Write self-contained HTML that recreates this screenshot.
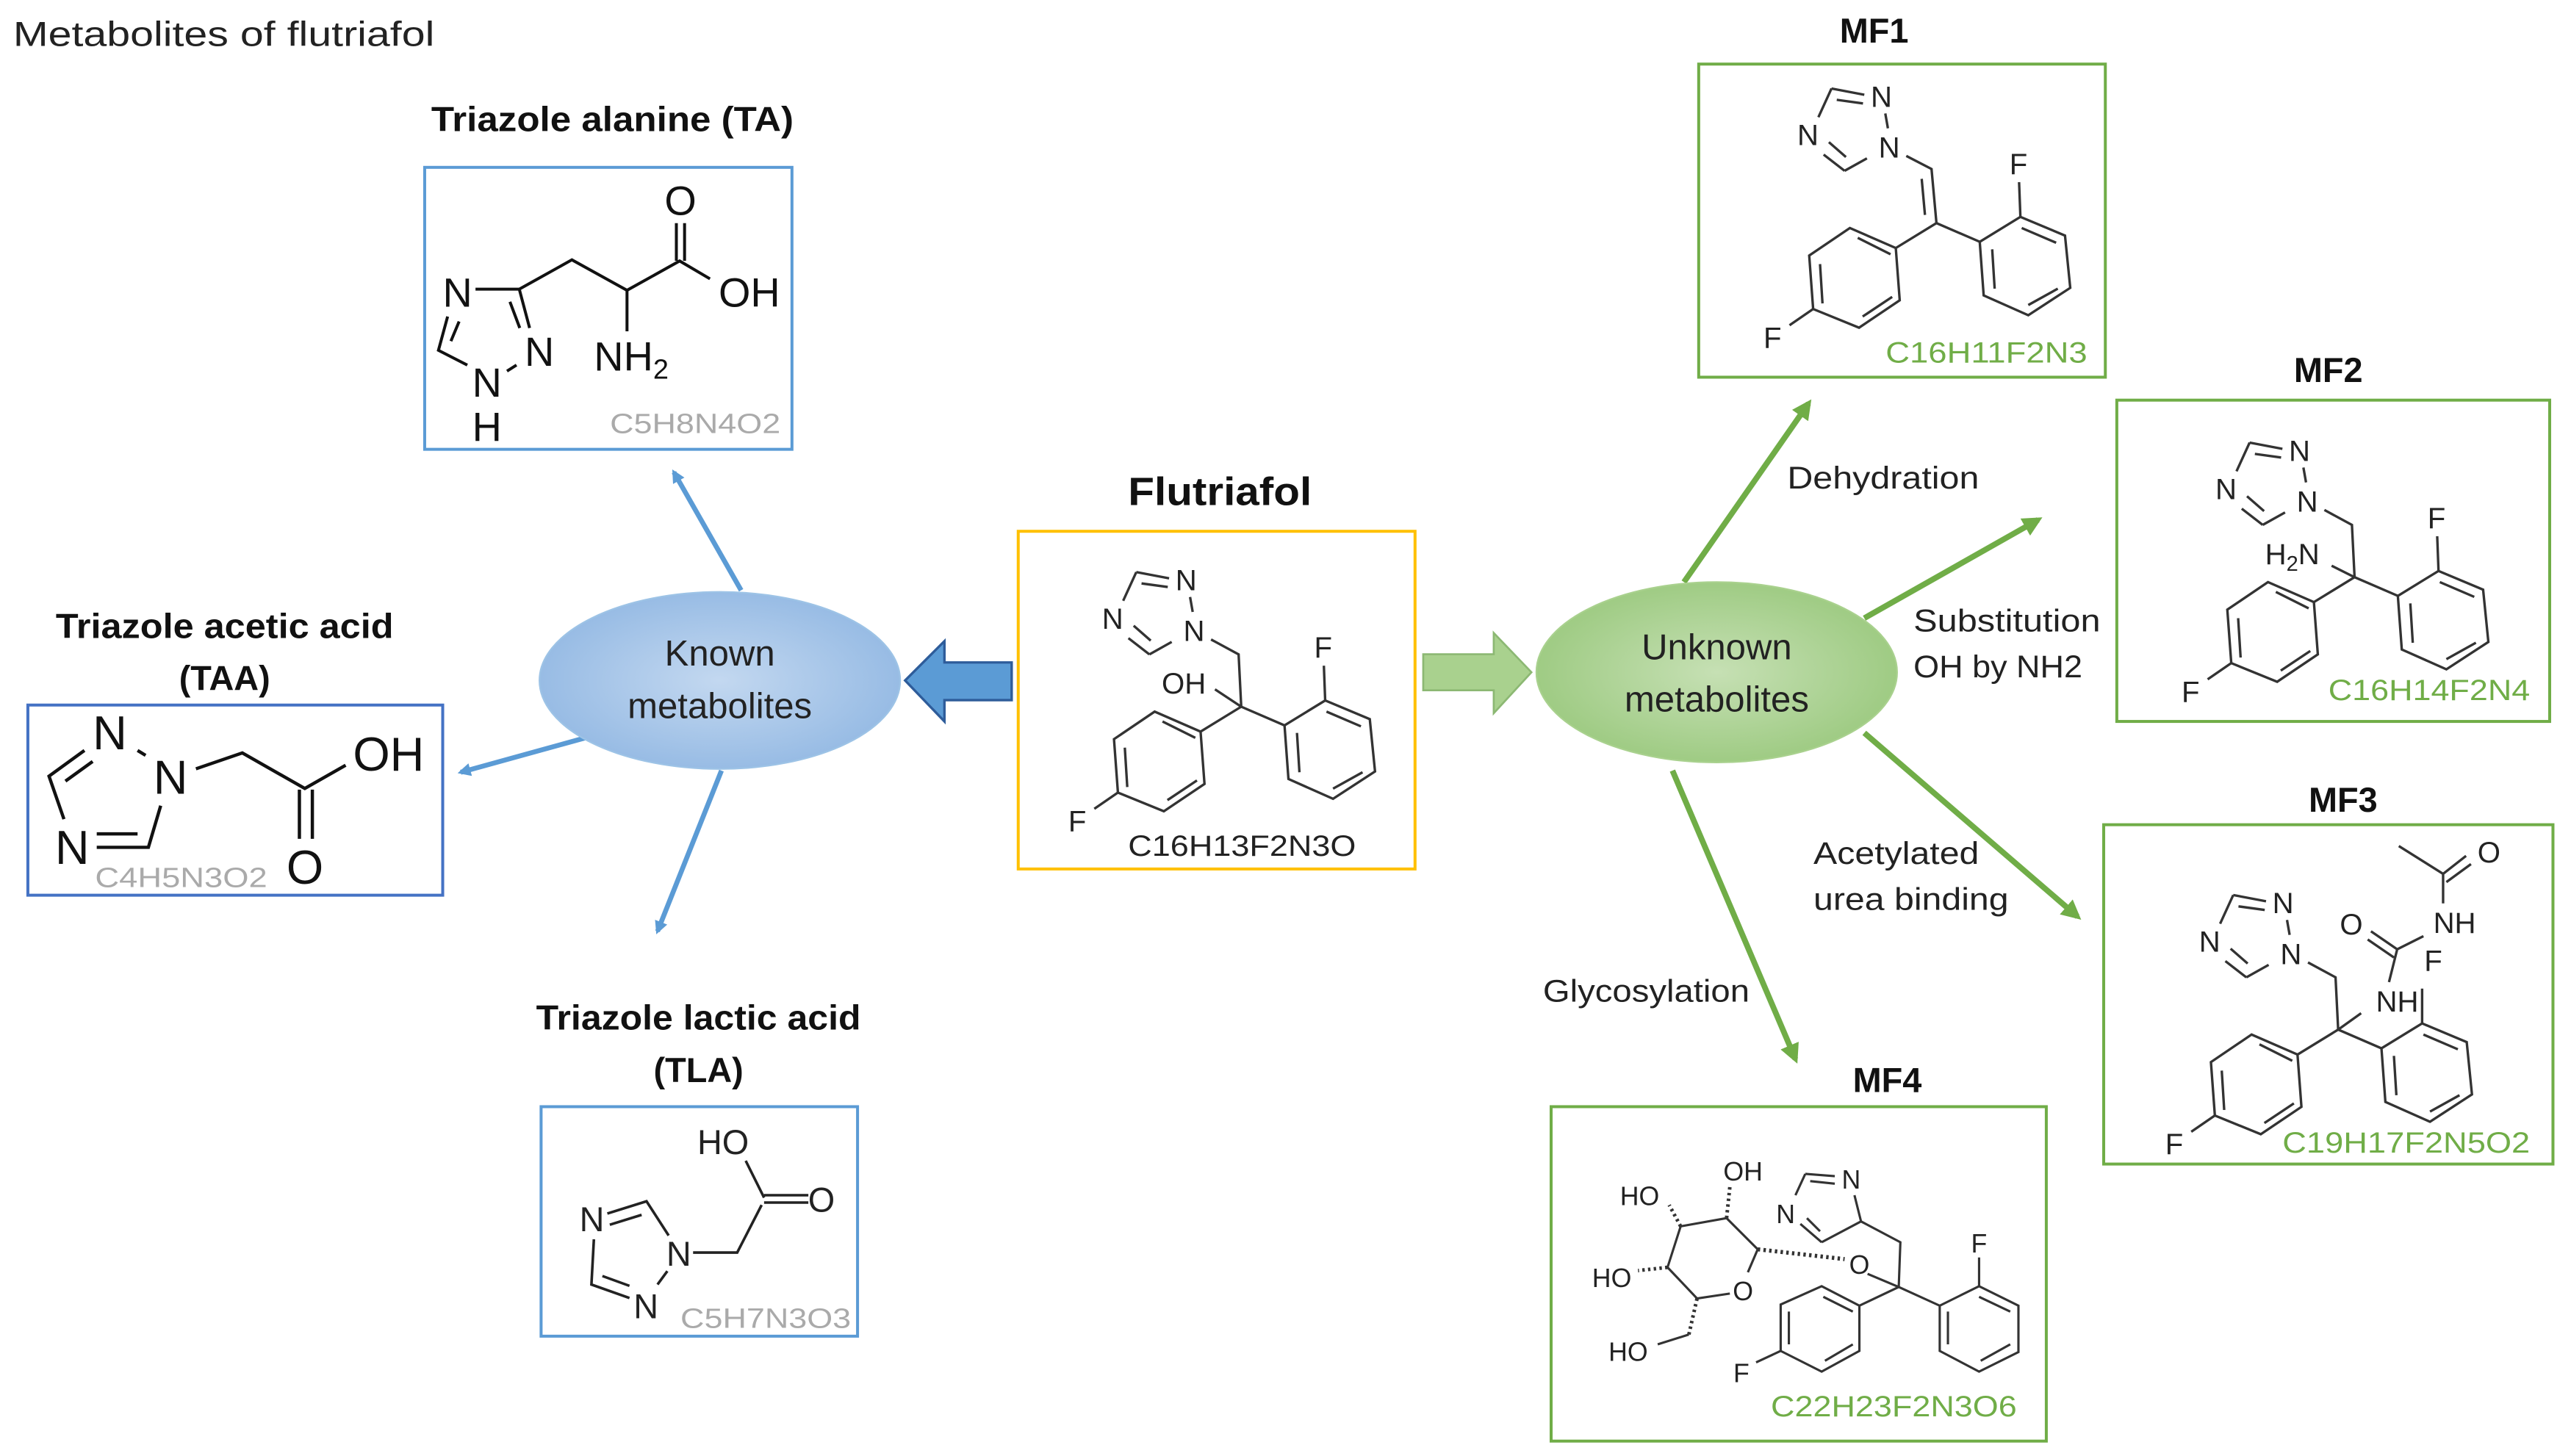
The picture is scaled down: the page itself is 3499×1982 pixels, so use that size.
<!DOCTYPE html>
<html><head><meta charset="utf-8"><style>
html,body{margin:0;padding:0;background:#fff;}
svg{display:block;}
text{font-family:"Liberation Sans",sans-serif;}
</style></head><body>
<svg width="3499" height="1982" viewBox="0 0 1568 888" xmlns="http://www.w3.org/2000/svg">
<defs>
<radialGradient id="gb" cx="50%" cy="50%" r="60%"><stop offset="0" stop-color="#c3d8f0"/><stop offset="1" stop-color="#8fb6e2"/></radialGradient>
<radialGradient id="gg" cx="50%" cy="50%" r="60%"><stop offset="0" stop-color="#c6e0b4"/><stop offset="1" stop-color="#97c77a"/></radialGradient>
<marker id="ab" markerWidth="8" markerHeight="8" refX="6" refY="4" orient="auto" markerUnits="userSpaceOnUse"><path d="M0,0 L8,4 L0,8 z" fill="#5b9bd5"/></marker>
<marker id="ag" markerWidth="12" markerHeight="12" refX="9" refY="6" orient="auto" markerUnits="userSpaceOnUse"><path d="M0,0 L12,6 L0,12 z" fill="#70ad47"/></marker>
</defs>
<rect width="1568" height="888" fill="#fff"/>
<text x="8" y="28" font-size="21" fill="#222" textLength="257" lengthAdjust="spacingAndGlyphs">Metabolites of flutriafol</text>

<!-- TA -->
<text x="263" y="80" font-size="21" font-weight="bold" fill="#111" textLength="221" lengthAdjust="spacingAndGlyphs">Triazole alanine (TA)</text>
<rect x="259" y="102" width="224" height="172" fill="none" stroke="#5b9bd5" stroke-width="1.8"/>
<g stroke="#111" stroke-width="1.8" fill="none">
<path d="M290,176.3 L316.7,176.3 L348.8,158.4 L382.4,177 L414.5,159.1 L433,170"/>
<path d="M316.7,176.3 L323,200 M311,184 L317,200"/>
<path d="M309.2,226.3 L315,222.6 M285,222.6 L267.4,213.6 L273,193 M275,208 L280,196"/>
<path d="M412.5,159 L412.5,136 M417.5,159 L417.5,136 M382.4,177 L382.4,202"/>
</g>
<g font-size="25" fill="#111" text-anchor="middle">
<text x="279" y="187">N</text><text x="329" y="223">N</text><text x="297" y="242">N</text><text x="297" y="269">H</text>
<text x="415" y="131">O</text><text x="457" y="187">OH</text>
<text x="385" y="226">NH<tspan font-size="17" dy="5">2</tspan></text>
</g>
<text x="372" y="264" font-size="17" fill="#aaa" textLength="104" lengthAdjust="spacingAndGlyphs">C5H8N4O2</text>

<!-- TAA -->
<text x="34" y="389" font-size="21" font-weight="bold" fill="#111" textLength="206" lengthAdjust="spacingAndGlyphs">Triazole acetic acid</text>
<text x="137" y="421" font-size="21" font-weight="bold" text-anchor="middle" fill="#111">(TAA)</text>
<rect x="17" y="430" width="253" height="116" fill="none" stroke="#4472c4" stroke-width="1.8"/>
<g stroke="#111" stroke-width="2" fill="none">
<path d="M51.5,457.7 L29.9,473.4 L39,499.6 M56.5,464.4 L39.9,476.4"/>
<path d="M59,508.6 L83.9,508.6 M59,516.8 L90.5,516.8 L98,491.4 M83.9,457.7 L88.8,460.7"/>
<path d="M119.5,468.9 L147.8,459.2 L185.9,480.9 L210.8,466.7 M182.6,481.6 L182.6,511.6 M190.5,481.6 L190.5,511.6"/>
</g>
<g font-size="29" fill="#111" text-anchor="middle">
<text x="67" y="457">N</text><text x="104" y="484">N</text><text x="44" y="527">N</text>
<text x="237" y="470">OH</text><text x="186" y="539">O</text>
</g>
<text x="58" y="541" font-size="17" fill="#aaa" textLength="105" lengthAdjust="spacingAndGlyphs">C4H5N3O2</text>

<!-- TLA -->
<text x="327" y="628" font-size="21" font-weight="bold" fill="#111" textLength="198" lengthAdjust="spacingAndGlyphs">Triazole lactic acid</text>
<text x="426" y="660" font-size="21" font-weight="bold" text-anchor="middle" fill="#111">(TLA)</text>
<rect x="330" y="675" width="193" height="140" fill="none" stroke="#5b9bd5" stroke-width="1.8"/>
<g stroke="#222" stroke-width="1.6" fill="none">
<path d="M454.8,708 L466,730.5 M466,729 L493,729 M466,733.5 L493,733.5 M464.5,735 L449.6,764 L422.7,764"/>
<path d="M407.8,753.6 L394.3,732.7 L370.4,740.2 M391.3,741 L371.9,747 M362.2,755.9 L360.7,783.5 L383.9,791.7 M367.4,778.3 L383.9,784.3 M401,783.5 L407,775.3"/>
</g>
<g font-size="21" fill="#222" text-anchor="middle">
<text x="441" y="704">HO</text><text x="501" y="739">O</text><text x="414" y="772">N</text><text x="361" y="751">N</text><text x="394" y="804">N</text>
</g>
<text x="415" y="810" font-size="17" fill="#aaa" textLength="104" lengthAdjust="spacingAndGlyphs">C5H7N3O3</text>

<!-- Known ellipse & arrows -->
<line x1="452" y1="360" x2="411" y2="288" stroke="#5b9bd5" stroke-width="3" marker-end="url(#ab)"/>
<line x1="357" y1="450" x2="281" y2="471" stroke="#5b9bd5" stroke-width="3" marker-end="url(#ab)"/>
<line x1="440" y1="470" x2="401" y2="568" stroke="#5b9bd5" stroke-width="3" marker-end="url(#ab)"/>
<ellipse cx="439" cy="415" rx="110" ry="54" fill="url(#gb)" stroke="#9dc3e6" stroke-width="1"/>
<text x="439" y="406" font-size="22" text-anchor="middle" fill="#222">Known</text>
<text x="439" y="438" font-size="22" text-anchor="middle" fill="#222">metabolites</text>
<path d="M617,404 L576,404 L576,391 L552,415 L576,440 L576,427 L617,427 Z" fill="#5b9bd5" stroke="#2e5c9a" stroke-width="1.5"/>

<!-- Flutriafol -->
<text x="688" y="308" font-size="24" font-weight="bold" fill="#111" textLength="112" lengthAdjust="spacingAndGlyphs">Flutriafol</text>
<rect x="621" y="324" width="242" height="206" fill="none" stroke="#ffc000" stroke-width="1.8"/>
<g transform="translate(757,431)">
<g stroke="#333" stroke-width="1.5" fill="none">
<path d="M0,0 L-24.8,15.2 M-24.8,15.2 L-52.8,3 L-77.6,19.8 L-75.2,52.4 L-47.2,63.8 L-22.4,47.1 Z"/>
<path d="M-48,9 L-28,19 M-71,25 L-69.5,49 M-45,57 L-27,45"/>
<path d="M0,0 L26.4,11.4 M26.4,11.4 L51.2,-3.8 L78.4,7.6 L81.6,39.5 L56,56.2 L28.8,44.1 Z"/>
<path d="M52,3 L73,12 M34,16 L35.5,40 M74,40 L56,50"/>
<path d="M51.2,-3.8 L50.4,-25 M-75.2,52.4 L-89.6,62.3"/>
<path d="M-64,-82.1 L-44,-78.3 M-60.8,-75.2 L-44.8,-73 M-64,-82.1 L-72,-64.6 M-68.8,-41.8 L-56,-31.9 M-65.6,-49.4 L-55.2,-40.3 M-56,-31.9 L-42.4,-39.5 M-29.6,-57.8 L-31.2,-66.9 M-18.4,-41 L-1.6,-31.9 L0,0 M-16,-10.6 L0,0"/>
</g>
<g font-size="18" fill="#222" text-anchor="middle"><text x="50" y="-30">F</text><text x="-100" y="76">F</text><text x="-33.6" y="-71">N</text><text x="-78.4" y="-47.5">N</text><text x="-28.8" y="-40">N</text><text x="-35" y="-8">OH</text></g>
</g>
<text x="688" y="522" font-size="18" fill="#222" textLength="139" lengthAdjust="spacingAndGlyphs">C16H13F2N3O</text>

<!-- Unknown ellipse, block arrow -->
<path d="M868,399 L911,399 L911,386 L934,410 L911,435 L911,421 L868,421 Z" fill="#a9d18e" stroke="#8cb873" stroke-width="1.2"/>
<line x1="1027" y1="355" x2="1103" y2="246" stroke="#70ad47" stroke-width="3.5" marker-end="url(#ag)"/>
<line x1="1137" y1="377" x2="1243" y2="317" stroke="#70ad47" stroke-width="3.5" marker-end="url(#ag)"/>
<line x1="1137" y1="447" x2="1267" y2="559" stroke="#70ad47" stroke-width="3.5" marker-end="url(#ag)"/>
<line x1="1020" y1="470" x2="1095" y2="646" stroke="#70ad47" stroke-width="3.5" marker-end="url(#ag)"/>
<ellipse cx="1047" cy="410" rx="110" ry="55" fill="url(#gg)" stroke="#a9d18e" stroke-width="1"/>
<text x="1047" y="402" font-size="22" text-anchor="middle" fill="#222">Unknown</text>
<text x="1047" y="434" font-size="22" text-anchor="middle" fill="#222">metabolites</text>
<g font-size="19" fill="#222" lengthAdjust="spacingAndGlyphs">
<text x="1090" y="298" textLength="117" lengthAdjust="spacingAndGlyphs">Dehydration</text>
<text x="1167" y="385" textLength="114" lengthAdjust="spacingAndGlyphs">Substitution</text><text x="1167" y="413" textLength="103" lengthAdjust="spacingAndGlyphs">OH by NH2</text>
<text x="1106" y="527" textLength="101" lengthAdjust="spacingAndGlyphs">Acetylated</text><text x="1106" y="555" textLength="119" lengthAdjust="spacingAndGlyphs">urea binding</text>
<text x="941" y="611" textLength="126" lengthAdjust="spacingAndGlyphs">Glycosylation</text>
</g>

<!-- MF1 -->
<text x="1143" y="26" font-size="21" font-weight="bold" text-anchor="middle" fill="#111">MF1</text>
<rect x="1036" y="39" width="248" height="191" fill="none" stroke="#70ad47" stroke-width="1.8"/>
<g transform="translate(1181,136)">
<g stroke="#333" stroke-width="1.5" fill="none">
<path d="M0,0 L-24.8,15.2 M-24.8,15.2 L-52.8,3 L-77.6,19.8 L-75.2,52.4 L-47.2,63.8 L-22.4,47.1 Z"/>
<path d="M-48,9 L-28,19 M-71,25 L-69.5,49 M-45,57 L-27,45"/>
<path d="M0,0 L26.4,11.4 M26.4,11.4 L51.2,-3.8 L78.4,7.6 L81.6,39.5 L56,56.2 L28.8,44.1 Z"/>
<path d="M52,3 L73,12 M34,16 L35.5,40 M74,40 L56,50"/>
<path d="M51.2,-3.8 L50.4,-25 M-75.2,52.4 L-89.6,62.3"/>
<path d="M-64,-82.1 L-44,-78.3 M-60.8,-75.2 L-44.8,-73 M-64,-82.1 L-72,-64.6 M-68.8,-41.8 L-56,-31.9 M-65.6,-49.4 L-55.2,-40.3 M-56,-31.9 L-42.4,-39.5 M-29.6,-57.8 L-31.2,-66.9 M-18.4,-41 L-3,-33 L0,0 M-9,-27 L-7,-5"/>
</g>
<g font-size="18" fill="#222" text-anchor="middle"><text x="50" y="-30">F</text><text x="-100" y="76">F</text><text x="-33.6" y="-71">N</text><text x="-78.4" y="-47.5">N</text><text x="-28.8" y="-40">N</text></g>
</g>
<text x="1150" y="221" font-size="18" fill="#70ad47" textLength="123" lengthAdjust="spacingAndGlyphs">C16H11F2N3</text>

<!-- MF2 -->
<text x="1420" y="233" font-size="21" font-weight="bold" text-anchor="middle" fill="#111">MF2</text>
<rect x="1291" y="244" width="264" height="196" fill="none" stroke="#70ad47" stroke-width="1.8"/>
<g transform="translate(1436,352)">
<g stroke="#333" stroke-width="1.5" fill="none">
<path d="M0,0 L-24.8,15.2 M-24.8,15.2 L-52.8,3 L-77.6,19.8 L-75.2,52.4 L-47.2,63.8 L-22.4,47.1 Z"/>
<path d="M-48,9 L-28,19 M-71,25 L-69.5,49 M-45,57 L-27,45"/>
<path d="M0,0 L26.4,11.4 M26.4,11.4 L51.2,-3.8 L78.4,7.6 L81.6,39.5 L56,56.2 L28.8,44.1 Z"/>
<path d="M52,3 L73,12 M34,16 L35.5,40 M74,40 L56,50"/>
<path d="M51.2,-3.8 L50.4,-25 M-75.2,52.4 L-89.6,62.3"/>
<path d="M-64,-82.1 L-44,-78.3 M-60.8,-75.2 L-44.8,-73 M-64,-82.1 L-72,-64.6 M-68.8,-41.8 L-56,-31.9 M-65.6,-49.4 L-55.2,-40.3 M-56,-31.9 L-42.4,-39.5 M-29.6,-57.8 L-31.2,-66.9 M-18.4,-41 L-1.6,-31.9 L0,0 M-14,-7 L0,0"/>
</g>
<g font-size="18" fill="#222" text-anchor="middle"><text x="50" y="-30">F</text><text x="-100" y="76">F</text><text x="-33.6" y="-71">N</text><text x="-78.4" y="-47.5">N</text><text x="-28.8" y="-40">N</text><text x="-38" y="-8">H<tspan font-size="13" dy="4">2</tspan><tspan dy="-4">N</tspan></text></g>
</g>
<text x="1420" y="427" font-size="18" fill="#70ad47" textLength="123" lengthAdjust="spacingAndGlyphs">C16H14F2N4</text>

<!-- MF3 -->
<text x="1429" y="495" font-size="21" font-weight="bold" text-anchor="middle" fill="#111">MF3</text>
<rect x="1283" y="503" width="274" height="207" fill="none" stroke="#70ad47" stroke-width="1.8"/>
<g transform="translate(1426,628)">
<g stroke="#333" stroke-width="1.5" fill="none">
<path d="M0,0 L-24.8,15.2 M-24.8,15.2 L-52.8,3 L-77.6,19.8 L-75.2,52.4 L-47.2,63.8 L-22.4,47.1 Z"/>
<path d="M-48,9 L-28,19 M-71,25 L-69.5,49 M-45,57 L-27,45"/>
<path d="M0,0 L26.4,11.4 M26.4,11.4 L51.2,-3.8 L78.4,7.6 L81.6,39.5 L56,56.2 L28.8,44.1 Z"/>
<path d="M52,3 L73,12 M34,16 L35.5,40 M74,40 L56,50"/>
<path d="M51.2,-3.8 L51.2,-25 M-75.2,52.4 L-89.6,62.3"/>
<path d="M-64,-82.1 L-44,-78.3 M-60.8,-75.2 L-44.8,-73 M-64,-82.1 L-72,-64.6 M-68.8,-41.8 L-56,-31.9 M-65.6,-49.4 L-55.2,-40.3 M-56,-31.9 L-42.4,-39.5 M-29.6,-57.8 L-31.2,-66.9 M-18.4,-41 L-1.6,-31.9 L0,0 M0,0 L14,-10"/>
</g>
<g font-size="18" fill="#222" text-anchor="middle"><text x="-100" y="76">F</text><text x="-33.6" y="-71">N</text><text x="-78.4" y="-47.5">N</text><text x="-28.8" y="-40">N</text></g>
</g>
<g stroke="#333" stroke-width="1.5" fill="none">
<path d="M1457,599 L1462,579 M1462,579 L1446,568 M1460,584 L1444,573 M1462,579 L1478,571 M1490,551 L1490,533 L1463,516 M1490,533 L1504,522 M1492,538 L1507,527"/>
</g>
<g font-size="18" fill="#222" text-anchor="middle"><text x="1462" y="617">NH</text><text x="1484" y="592">F</text><text x="1434" y="570">O</text><text x="1497" y="569">NH</text><text x="1518" y="526">O</text></g>
<text x="1392" y="703" font-size="18" fill="#70ad47" textLength="151" lengthAdjust="spacingAndGlyphs">C19H17F2N5O2</text>

<!-- MF4 -->
<text x="1151" y="666" font-size="21" font-weight="bold" text-anchor="middle" fill="#111">MF4</text>
<rect x="946" y="675" width="302" height="204" fill="none" stroke="#70ad47" stroke-width="1.8"/>
<g stroke="#333" stroke-width="1.4" fill="none">
<path d="M1072,762 L1053,743 L1025,748 L1017,773 L1035,792 L1055,789 M1066,776 L1072,762"/>
<path d="M1072,762 L1125,768" stroke-dasharray="1.5,2" stroke-width="2.5"/>
<path d="M1053,743 L1055,724 M1025,748 L1018,735 M1017,773 L999,775 M1035,792 L1030,814" stroke-dasharray="1.5,2" stroke-width="2.2"/>
<path d="M1030,814 L1011,820"/>
<path d="M1101,716 L1119,717.4 M1104,720.4 L1119,722 M1101,716 L1095,729 M1098,746.5 L1111,757.7 M1102,743 L1110,751 M1111,757.7 L1135,745 L1131,729 M1135,745 L1159,757.7 L1158,785 M1139,777 L1158,785"/>
<path d="M1158,785 L1134,796.4 M1134,796.4 L1111,784.5 L1086,795.7 L1086,824 L1111,836.6 L1134,824 Z M1112,791 L1130,800 M1091,800 L1091,820 M1113,830 L1130,820"/>
<path d="M1158,785 L1183,796.4 M1183,796.4 L1207,784.5 L1231,796.4 L1231,824.7 L1207,836.6 L1183,824 Z M1207,791 L1226,800 M1188,800 L1188,820 M1226,820 L1208,830"/>
<path d="M1207,784.5 L1207,767 M1086,824 L1071,831"/>
</g>
<g font-size="16" fill="#222" text-anchor="middle">
<text x="1063" y="720">OH</text><text x="1000" y="735">HO</text><text x="983" y="785">HO</text><text x="993" y="830">HO</text>
<text x="1063" y="793">O</text><text x="1134" y="777">O</text>
<text x="1129" y="725">N</text><text x="1089" y="746">N</text>
<text x="1207" y="764">F</text><text x="1062" y="843">F</text>
</g>
<text x="1080" y="864" font-size="18" fill="#70ad47" textLength="150" lengthAdjust="spacingAndGlyphs">C22H23F2N3O6</text>
</svg>
</body></html>
